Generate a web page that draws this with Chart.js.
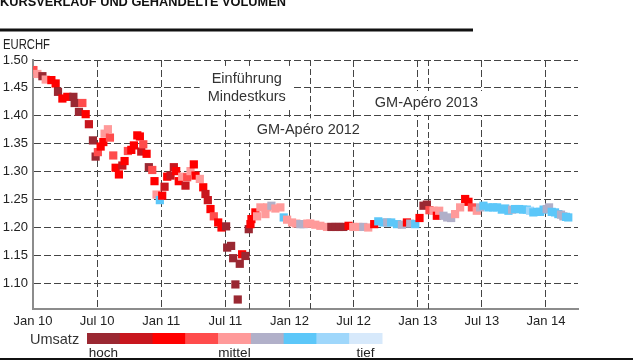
<!DOCTYPE html>
<html>
<head>
<meta charset="utf-8">
<script src="https://cdn.jsdelivr.net/npm/chart.js@4.4.1/dist/chart.umd.min.js"></script>
<style>
  html, body { margin: 0; padding: 0; background: #fff; }
  #wrap { width: 640px; height: 360px; position: relative; }
</style>
</head>
<body>
<div id="wrap"><canvas id="kurs-chart" width="640" height="360"></canvas></div>
<script>
// Wochenwerte EURCHF: Monate seit Jan 2010, Kurs, Umsatzstufe (1 = hoch ... 9 = tief)
const monate = [
  0.04, 0.41, 0.88, 1.19, 1.72, 2.12, 2.34, 2.75, 3.21, 3.78, 3.90, 4.30, 4.62, 4.93, 5.23, 5.61,
  5.86, 6.07, 6.33, 6.58, 6.70, 7.01, 7.20, 7.51, 7.73, 8.04, 8.36, 8.57, 8.88, 9.20, 9.44, 9.76,
  10.00, 10.13, 10.32, 10.63, 10.84, 11.16, 11.37, 11.56, 11.87, 12.09, 12.31, 12.56, 12.87, 13.18,
  13.40, 13.64, 13.96, 14.27, 14.43, 14.74, 15.05, 15.21, 15.61, 15.93, 16.14, 16.36, 16.61, 16.92,
  17.33, 17.64, 18.07, 18.17, 18.54, 18.73, 18.94, 19.16, 19.35, 19.57, 19.88, 20.19, 20.35, 20.44,
  20.81, 20.97, 21.28, 21.75, 21.91, 22.31, 22.68, 23.15, 23.46, 23.78, 24.24, 24.64, 25.02, 25.33,
  25.67, 25.95, 26.42, 26.89, 27.51, 27.92, 28.29, 28.66, 29.04, 29.53, 29.97, 30.44, 30.91, 31.37,
  31.93, 32.31, 32.78, 33.15, 33.52, 34.06, 34.52, 34.99, 35.30, 35.77, 36.17, 36.54, 36.86, 37.10,
  37.48, 37.79, 38.01, 38.41, 38.76, 39.13, 39.50, 39.97, 40.44, 40.75, 41.07, 41.53, 41.84, 42.15,
  42.62, 43.06, 43.43, 43.87, 44.18, 44.49, 44.83, 45.11, 45.49, 45.86, 46.21, 46.51, 46.82, 47.17,
  47.45, 47.78, 48.07, 48.29, 48.54, 48.85, 49.16, 49.41, 49.63, 49.88, 50.09
];
const kurs = [
  1.482, 1.475, 1.471, 1.465, 1.464, 1.458, 1.443, 1.431, 1.434, 1.434, 1.423, 1.407, 1.423, 1.403, 1.385, 1.356,
  1.327, 1.335, 1.345, 1.353, 1.368, 1.376, 1.361, 1.329, 1.307, 1.295, 1.311, 1.319, 1.337, 1.339, 1.347, 1.365,
  1.363, 1.336, 1.349, 1.332, 1.308, 1.303, 1.283, 1.259, 1.249, 1.257, 1.273, 1.291, 1.293, 1.308,
  1.301, 1.283, 1.291, 1.275, 1.290, 1.301, 1.313, 1.293, 1.287, 1.272, 1.260, 1.249, 1.233, 1.220,
  1.209, 1.200, 1.202, 1.164, 1.167, 1.145, 1.098, 1.071, 1.135, 1.152, 1.149, 1.197, 1.206, 1.215,
  1.227, 1.220, 1.236, 1.224, 1.236, 1.239, 1.234, 1.236, 1.218, 1.214, 1.209, 1.207, 1.206, 1.206,
  1.207, 1.207, 1.205, 1.203, 1.201, 1.201, 1.201, 1.201, 1.201, 1.203, 1.201, 1.201, 1.201, 1.200,
  1.206, 1.211, 1.209, 1.209, 1.209, 1.206, 1.205, 1.209, 1.207, 1.206, 1.217, 1.239, 1.241, 1.231,
  1.230, 1.221, 1.230, 1.221, 1.218, 1.217, 1.224, 1.236, 1.251, 1.246, 1.236, 1.230, 1.236, 1.239,
  1.236, 1.236, 1.236, 1.232, 1.234, 1.230, 1.232, 1.233, 1.233, 1.232, 1.232, 1.230, 1.227, 1.228,
  1.228, 1.232, 1.233, 1.236, 1.228, 1.227, 1.224, 1.223, 1.220, 1.219, 1.218
];
const umsatz = [
  4, 5, 1, 5, 3, 3, 1, 3, 3, 1, 1, 1, 4, 3, 2, 1,
  1, 4, 3, 3, 5, 5, 4, 4, 3, 3, 2, 3, 4, 3, 3, 3,
  3, 2, 4, 3, 1, 4, 3, 5, 7, 3, 2, 3, 2, 2,
  3, 3, 5, 2, 4, 5, 3, 3, 5, 3, 2, 2, 3, 4,
  3, 3, 1, 1, 1, 1, 1, 1, 1, 3, 1, 1, 3, 3,
  3, 5, 5, 5, 5, 6, 5, 5, 7, 5, 5, 5, 6, 6,
  5, 5, 5, 5, 5, 1, 1, 1, 1, 3, 5, 5, 6, 5,
  3, 7, 7, 6, 7, 7, 6, 3, 6, 7, 3, 1, 1, 4,
  5, 3, 5, 6, 6, 6, 5, 5, 3, 3, 4, 5, 6, 7,
  7, 7, 7, 7, 7, 7, 6, 7, 7, 7, 7, 8, 7, 7,
  7, 7, 6, 6, 7, 7, 7, 6, 6, 7, 7
];

const xTicks = [0, 6, 12, 18, 24, 30, 36, 42, 48];
const xLabels = ['Jan 10', 'Jul 10', 'Jan 11', 'Jul 11', 'Jan 12', 'Jul 12', 'Jan 13', 'Jul 13', 'Jan 14'];
const yTicks = [1.10, 1.15, 1.20, 1.25, 1.30, 1.35, 1.40, 1.45, 1.50];

const umsatzFarben = ['#9a2832', '#c8161e', '#ff0000', '#ff4c4c', '#ff9a9a', '#b1b0c9', '#5cc7f9', '#9fd7fb', '#d7e9fb'];
const umsatzStufen = ['hoch', '', '', '', 'mittel', '', '', '', 'tief'];

// Ereignisse (Monate seit Jan 2010) und Beschriftung
const ereignisMonate = [20.19, 25.95, 37.0];
const ereignisTexte = ['Einführung\nMindestkurs', 'GM-Apéro 2012', 'GM-Apéro 2013'];
const ereignisKurs = [1.450, 1.374, 1.423];

const FONT = '"Liberation Sans", Arial, sans-serif';

const extras = {
  id: 'extras',
  beforeDatasetsDraw(chart) {
    const {ctx, chartArea, scales: {x, y}} = chart;
    ctx.save();
    // gestrichelte Ereignislinien
    ctx.strokeStyle = '#444';
    ctx.lineWidth = 1;
    ctx.setLineDash([6, 3]);
    ereignisMonate.forEach(m => {
      const px = Math.round(x.getPixelForValue(m)) + 0.5;
      ctx.beginPath();
      ctx.moveTo(px, chartArea.top);
      ctx.lineTo(px, chartArea.bottom);
      ctx.stroke();
    });
    ctx.setLineDash([]);
    // Beschriftungen mit weissem Hintergrund
    ctx.font = '14.5px ' + FONT;
    ctx.textAlign = 'center';
    ctx.textBaseline = 'middle';
    ereignisTexte.forEach((t, i) => {
      const lines = t.split('\n');
      const w = Math.max(...lines.map(l => ctx.measureText(l).width)) + 16;
      const h = lines.length === 1 ? 24 : lines.length * 18 + 8;
      const cx = x.getPixelForValue(ereignisMonate[i]) - 2;
      const cy = y.getPixelForValue(ereignisKurs[i]);
      ctx.fillStyle = '#fff';
      ctx.fillRect(cx - w / 2, cy - h / 2, w, h);
      ctx.fillStyle = '#333';
      lines.forEach((l, j) => ctx.fillText(l, cx, cy + (j - (lines.length - 1) / 2) * 18));
    });
    ctx.restore();
  },
  afterDraw(chart) {
    const ctx = chart.ctx;
    ctx.save();
    // Titel (oben abgeschnitten) und Linien
    ctx.fillStyle = '#111';
    ctx.font = 'bold 13px ' + FONT;
    ctx.textAlign = 'left';
    ctx.textBaseline = 'alphabetic';
    ctx.fillText('KURSVERLAUF UND GEHANDELTE VOLUMEN', 0, 5.5, 286);
    ctx.fillRect(0, 28.5, 473, 3);
    ctx.fillRect(0, 358, 633, 2);
    ctx.fillStyle = '#222';
    ctx.font = '15px ' + FONT;
    ctx.fillText('EURCHF', 3, 48.5, 47);
    // Umsatz-Legende
    ctx.fillStyle = '#333';
    ctx.font = '14.5px ' + FONT;
    ctx.textBaseline = 'middle';
    ctx.fillText('Umsatz', 30, 340);
    const x0 = 87, segW = (382 - 87) / umsatzFarben.length;
    umsatzFarben.forEach((c, i) => {
      ctx.fillStyle = c;
      ctx.fillRect(x0 + i * segW, 333, segW + 0.5, 11);
    });
    ctx.fillStyle = '#222';
    ctx.font = '13.5px ' + FONT;
    ctx.textAlign = 'center';
    umsatzStufen.forEach((s, i) => {
      if (s) ctx.fillText(s, x0 + (i + 0.5) * segW, 353);
    });
    ctx.restore();
  }
};

const ctx = document.getElementById('kurs-chart').getContext('2d');
const chart = new Chart(ctx, {
  type: 'scatter',
  data: {
    datasets: [{
      data: monate.map((m, i) => ({x: m, y: kurs[i]})),
      pointStyle: 'rect',
      pointRadius: 5.8,
      pointBorderWidth: 0,
      pointBackgroundColor: umsatz.map(u => umsatzFarben[u - 1]),
      showLine: false
    }]
  },
  options: {
    responsive: false,
    animation: false,
    layout: { padding: { top: 60, right: 62, bottom: 0, left: 0 } },
    plugins: { legend: { display: false }, tooltip: { enabled: false } },
    scales: {
      x: {
        type: 'linear',
        min: 0,
        max: 51,
        afterFit: s => { s.height = 51; },
        afterBuildTicks: s => { s.ticks = xTicks.map(v => ({value: v})); },
        ticks: {
          padding: 5,
          color: '#222',
          font: { size: 13, family: FONT },
          maxRotation: 0,
          autoSkip: false,
          callback: v => xLabels[xTicks.indexOf(v)]
        },
        grid: { color: '#444', lineWidth: 1, drawTicks: false },
        border: { display: true, color: '#8c8c8c', width: 2, dash: [7, 3] }
      },
      y: {
        min: 1.054,
        max: 1.50,
        afterFit: s => { s.width = 33; },
        afterBuildTicks: s => { s.ticks = yTicks.map(v => ({value: v})); },
        ticks: {
          padding: 5,
          color: '#222',
          font: { size: 13, family: FONT },
          callback: v => v.toFixed(2)
        },
        grid: { color: '#444', lineWidth: 1, drawTicks: false },
        border: { display: true, color: '#8c8c8c', width: 2, dash: [7, 3] }
      }
    }
  },
  plugins: [extras]
});
</script>
</body>
</html>
